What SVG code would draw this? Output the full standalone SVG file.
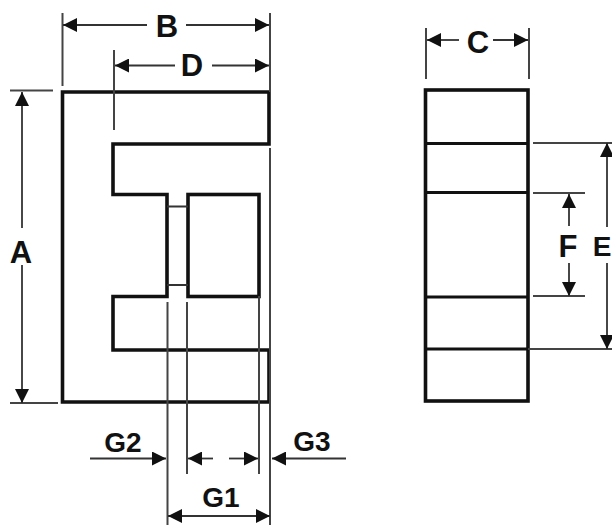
<svg xmlns="http://www.w3.org/2000/svg" width="612" height="525" viewBox="0 0 612 525">
<style>
.o{fill:none;stroke:#111;stroke-width:3.6;stroke-linejoin:miter}
.m{fill:none;stroke:#111;stroke-width:3.2}
.d{fill:none;stroke:#333;stroke-width:1.8}
.e{fill:none;stroke:#444;stroke-width:2}
text{font-family:"Liberation Sans",Arial,sans-serif;font-weight:bold;fill:#111;text-anchor:middle}
.l{font-size:31px}
.g{font-size:28px}
</style>
<defs>
<marker id="a" viewBox="0 0 14 14" refX="14" refY="7" markerWidth="14" markerHeight="14" markerUnits="userSpaceOnUse" orient="auto-start-reverse"><path d="M0 0L14 7L0 14Z" fill="#111"/></marker>
</defs>
<rect width="612" height="525" fill="#fff"/>
<g id="front-view">
<path class="o" d="M62.500 92H269V144H113V194.500H167V296.500H113V350H269V402H62.500Z"/>
<rect class="o" x="188" y="194.500" width="71" height="102"/>
<path class="d" d="M167 206.500H188M167 285H188"/>
</g>
<g id="side-view">
<rect class="o" x="425.500" y="90" width="102.500" height="311"/>
<path class="m" d="M425 143.500H528M425 192.500H528M425 297H528M425 349H528"/>
</g>
<g id="connectors">
<path class="e" d="M62.500 13V86M270 13V92M114 50V130M270 148V525M10 90.500H53M10 403H58M426 28V79M529 28V79M533 143H612M533 193H585M533 296H585M528 349H612M167.500 302V525M187 302V474M259 296V474"/>
<path class="d" marker-start="url(#a)" d="M63 25H147"/>
<path class="d" marker-end="url(#a)" d="M186 25H269"/>
<path class="d" marker-start="url(#a)" d="M115 65.500H175"/>
<path class="d" marker-end="url(#a)" d="M212 65.500H269"/>
<path class="d" marker-start="url(#a)" d="M22 92V228"/>
<path class="d" marker-end="url(#a)" d="M22 265V403"/>
<path class="d" marker-start="url(#a)" d="M427 40H459"/>
<path class="d" marker-end="url(#a)" d="M493 40H528"/>
<path class="d" marker-start="url(#a)" d="M569 194V226"/>
<path class="d" marker-end="url(#a)" d="M569 263V296"/>
<path class="d" marker-start="url(#a)" d="M607 143V227"/>
<path class="d" marker-end="url(#a)" d="M607 263V349"/>
<path class="d" marker-end="url(#a)" d="M90 458.500H166"/>
<path class="d" marker-start="url(#a)" d="M188 458.500H213"/>
<path class="d" marker-end="url(#a)" d="M229 458.500H258"/>
<path class="d" marker-start="url(#a)" d="M272 458.500H346"/>
<path class="d" marker-start="url(#a)" marker-end="url(#a)" d="M168 516H270"/>
</g>
<g id="labels">
<text class="l" x="167" y="37">B</text>
<text class="l" x="192" y="76">D</text>
<text class="l" x="21" y="263">A</text>
<text class="l" x="478" y="53">C</text>
<text class="l" x="568" y="257">F</text>
<text class="g" x="602" y="256">E</text>
<text class="g" x="123" y="452">G2</text>
<text class="g" x="312" y="451">G3</text>
<text class="g" x="221" y="507">G1</text>
</g>
</svg>
